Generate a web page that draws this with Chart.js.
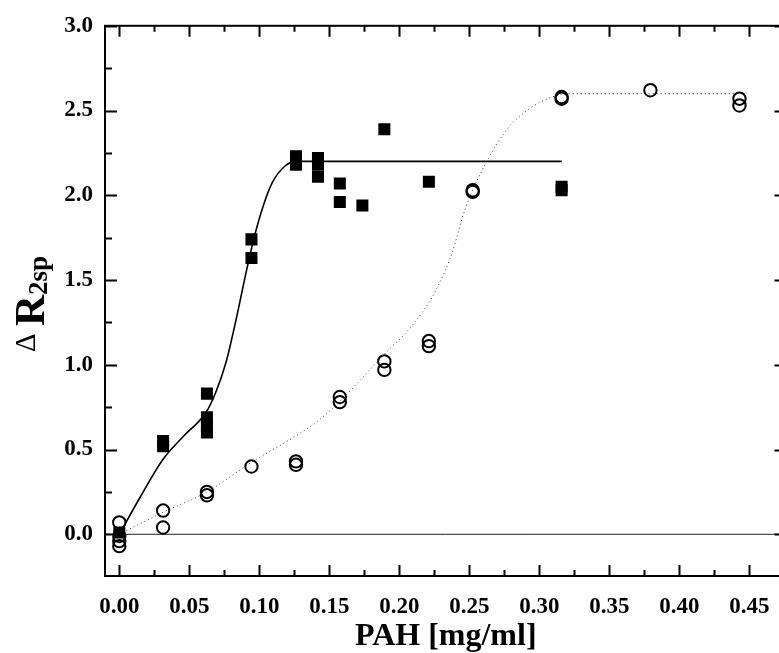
<!DOCTYPE html>
<html>
<head>
<meta charset="utf-8">
<script src="https://cdn.jsdelivr.net/npm/chart.js@4.4.1/dist/chart.umd.min.js"></script>
<style>
  html, body { margin: 0; padding: 0; background: #fff; overflow: hidden; }
  #wrap { width: 779px; height: 653px; overflow: hidden; }
</style>
</head>
<body>
<div id="wrap"><canvas id="pahChart" width="795" height="653"></canvas></div>
<script>
// measured points (filled squares)
const squareX = [0, 0.0313, 0.0313, 0.0626, 0.0626, 0.0626, 0.0626, 0.0944, 0.0944, 0.1262, 0.1262,
                 0.1419, 0.1419, 0.1419, 0.1575, 0.1575, 0.1736, 0.1893, 0.2211, 0.3159, 0.3159];
const squareY = [0.01, 0.55, 0.52, 0.83, 0.69, 0.64, 0.60, 1.74, 1.63, 2.23, 2.18,
                 2.22, 2.18, 2.11, 2.07, 1.96, 1.94, 2.39, 2.08, 2.05, 2.03];

// measured points (open circles)
const circleX = [0, 0, 0, 0, 0.0313, 0.0313, 0.0626, 0.0626, 0.0944, 0.1262, 0.1262, 0.1575, 0.1575,
                 0.1893, 0.1893, 0.2211, 0.2211, 0.2524, 0.2524, 0.3159, 0.3159, 0.3793, 0.4429, 0.4429];
const circleY = [0.07, -0.01, -0.04, -0.07, 0.14, 0.04, 0.25, 0.23, 0.40, 0.43, 0.41, 0.81, 0.78,
                 1.02, 0.97, 1.14, 1.11, 2.03, 2.02, 2.58, 2.57, 2.62, 2.57, 2.53];

// fitted curves
const fitSolidX = [0, 0.015, 0.031, 0.046, 0.062, 0.069, 0.0764, 0.0835, 0.0907, 0.0966, 0.1025, 0.1096, 0.118, 0.126, 0.14, 0.316];
const fitSolidY = [0, 0.22, 0.44, 0.58, 0.72, 0.84, 1.02, 1.27, 1.55, 1.76, 1.93, 2.08, 2.17, 2.2, 2.2, 2.2];
const fitDotX = [0, 0.0313, 0.0626, 0.0954, 0.124, 0.1405, 0.157, 0.189, 0.209, 0.2234, 0.233, 0.2377,
                 0.247, 0.2638, 0.278, 0.2946, 0.309, 0.3207, 0.44];
const fitDotY = [0, 0.13, 0.25, 0.43, 0.57, 0.66, 0.78, 1.06, 1.23, 1.40, 1.56, 1.66,
                 1.92, 2.22, 2.40, 2.52, 2.58, 2.60, 2.60];

// axes
const xMajor = [0, 0.05, 0.10, 0.15, 0.20, 0.25, 0.30, 0.35, 0.40, 0.45];
const xMinor = [0.025, 0.075, 0.125, 0.175, 0.225, 0.275, 0.325, 0.375, 0.425, 0.475];
const yMajor = [0, 0.5, 1.0, 1.5, 2.0, 2.5, 3.0];
const yMinor = [0.25, 0.75, 1.25, 1.75, 2.25, 2.75];

const pts = (xs, ys) => xs.map((x, i) => ({ x: x, y: ys[i] }));
const serif = "'Liberation Serif', 'Times New Roman', serif";

// frame, inward ticks, zero line and the titles
const framePlugin = {
    id: 'frame',
    beforeDatasetsDraw(chart) {
        const { ctx, chartArea: a, scales: { y } } = chart;
        const y0 = y.getPixelForValue(0);
        ctx.save();
        ctx.strokeStyle = '#222';
        ctx.lineWidth = 1;
        ctx.beginPath();
        ctx.moveTo(a.left, y0);
        ctx.lineTo(a.right, y0);
        ctx.stroke();
        ctx.restore();
    },
    afterDraw(chart) {
        const { ctx, chartArea: a, scales: { x, y } } = chart;
        ctx.save();
        ctx.strokeStyle = '#000';
        ctx.lineWidth = 2;
        ctx.strokeRect(a.left, a.top, a.right - a.left, a.bottom - a.top);

        ctx.beginPath();
        xMajor.forEach(v => {
            const px = Math.round(x.getPixelForValue(v)) + 0.5;
            ctx.moveTo(px, a.bottom); ctx.lineTo(px, a.bottom - 11);
            ctx.moveTo(px, a.top); ctx.lineTo(px, a.top + 11);
        });
        xMinor.forEach(v => {
            const px = Math.round(x.getPixelForValue(v)) + 0.5;
            ctx.moveTo(px, a.bottom); ctx.lineTo(px, a.bottom - 6);
            ctx.moveTo(px, a.top); ctx.lineTo(px, a.top + 6);
        });
        yMajor.forEach(v => {
            const py = Math.round(y.getPixelForValue(v)) + 0.5;
            ctx.moveTo(a.left, py); ctx.lineTo(a.left + 12, py);
            ctx.moveTo(a.right, py); ctx.lineTo(a.right - 12, py);
        });
        yMinor.forEach(v => {
            const py = Math.round(y.getPixelForValue(v)) + 0.5;
            ctx.moveTo(a.left, py); ctx.lineTo(a.left + 7, py);
            ctx.moveTo(a.right, py); ctx.lineTo(a.right - 7, py);
        });
        ctx.stroke();

        // x title
        ctx.fillStyle = '#000';
        ctx.font = 'bold 32px ' + serif;
        ctx.textAlign = 'center';
        ctx.textBaseline = 'alphabetic';
        ctx.fillText('PAH [mg/ml]', (a.left + a.right) / 2, 645);

        // y title: Δ R with subscript 2sp, rotated
        ctx.translate(44, 304);
        ctx.rotate(-Math.PI / 2);
        ctx.textAlign = 'left';
        const partD = 'Δ';
        const partR = 'R';
        const partS = '2sp';
        ctx.font = '29px ' + serif;
        const wD = ctx.measureText(partD + ' ').width;
        ctx.font = 'bold 43px ' + serif;
        const wR = ctx.measureText(partR).width;
        ctx.font = 'bold 27px ' + serif;
        const wS = ctx.measureText(partS).width;
        let cx = -(wD + wR + wS) / 2;
        ctx.font = '29px ' + serif;
        ctx.fillText(partD + ' ', cx, -9);
        cx += wD;
        ctx.font = 'bold 43px ' + serif;
        ctx.fillText(partR, cx, 0);
        cx += wR;
        ctx.font = 'bold 27px ' + serif;
        ctx.fillText(partS, cx, 3);
        ctx.restore();
    }
};

const ctx = document.getElementById('pahChart');

const chart = new Chart(ctx, {
    type: 'scatter',
    data: {
        datasets: [{
            label: 'squares',
            data: pts(squareX, squareY),
            pointStyle: 'rect',
            pointRadius: 8.5,
            backgroundColor: '#000',
            borderColor: '#000',
            borderWidth: 0
        },
        {
            label: 'circles',
            data: pts(circleX, circleY),
            pointStyle: 'circle',
            pointRadius: 6.2,
            backgroundColor: 'rgba(0,0,0,0)',
            borderColor: '#000',
            borderWidth: 2
        },
        {
            label: 'fit solid',
            data: pts(fitSolidX, fitSolidY),
            showLine: true,
            pointRadius: 0,
            borderColor: '#000',
            borderWidth: 1.6,
            cubicInterpolationMode: 'monotone',
            fill: false
        },
        {
            label: 'fit dotted',
            data: pts(fitDotX, fitDotY),
            showLine: true,
            pointRadius: 0,
            borderColor: '#444',
            borderWidth: 1,
            borderDash: [1, 3],
            cubicInterpolationMode: 'monotone',
            fill: false
        }]
    },
    options: {
        responsive: false,
        animation: false,
        devicePixelRatio: 1,
        layout: { padding: { left: 0, top: 22, right: 6, bottom: 0 } },
        plugins: {
            legend: { display: false },
            tooltip: { enabled: false }
        },
        scales: {
            x: {
                type: 'linear',
                min: -0.0102,
                max: 0.4765,
                grid: { display: false, drawTicks: false },
                border: { display: false },
                afterBuildTicks: axis => { axis.ticks = xMajor.map(v => ({ value: v })); },
                afterFit: axis => { axis.height = 77; },
                ticks: {
                    padding: 17,
                    color: '#000',
                    font: { family: serif, size: 23, weight: 'bold' },
                    callback: v => v.toFixed(2)
                }
            },
            y: {
                type: 'linear',
                min: -0.246,
                max: 3.0,
                grid: { display: false, drawTicks: false },
                border: { display: false },
                afterBuildTicks: axis => { axis.ticks = yMajor.map(v => ({ value: v })); },
                afterFit: axis => { axis.width = 105; },
                ticks: {
                    padding: 12,
                    color: '#000',
                    font: { family: serif, size: 23, weight: 'bold' },
                    callback: v => v.toFixed(1)
                }
            }
        }
    },
    plugins: [framePlugin]
});
</script>
</body>
</html>
